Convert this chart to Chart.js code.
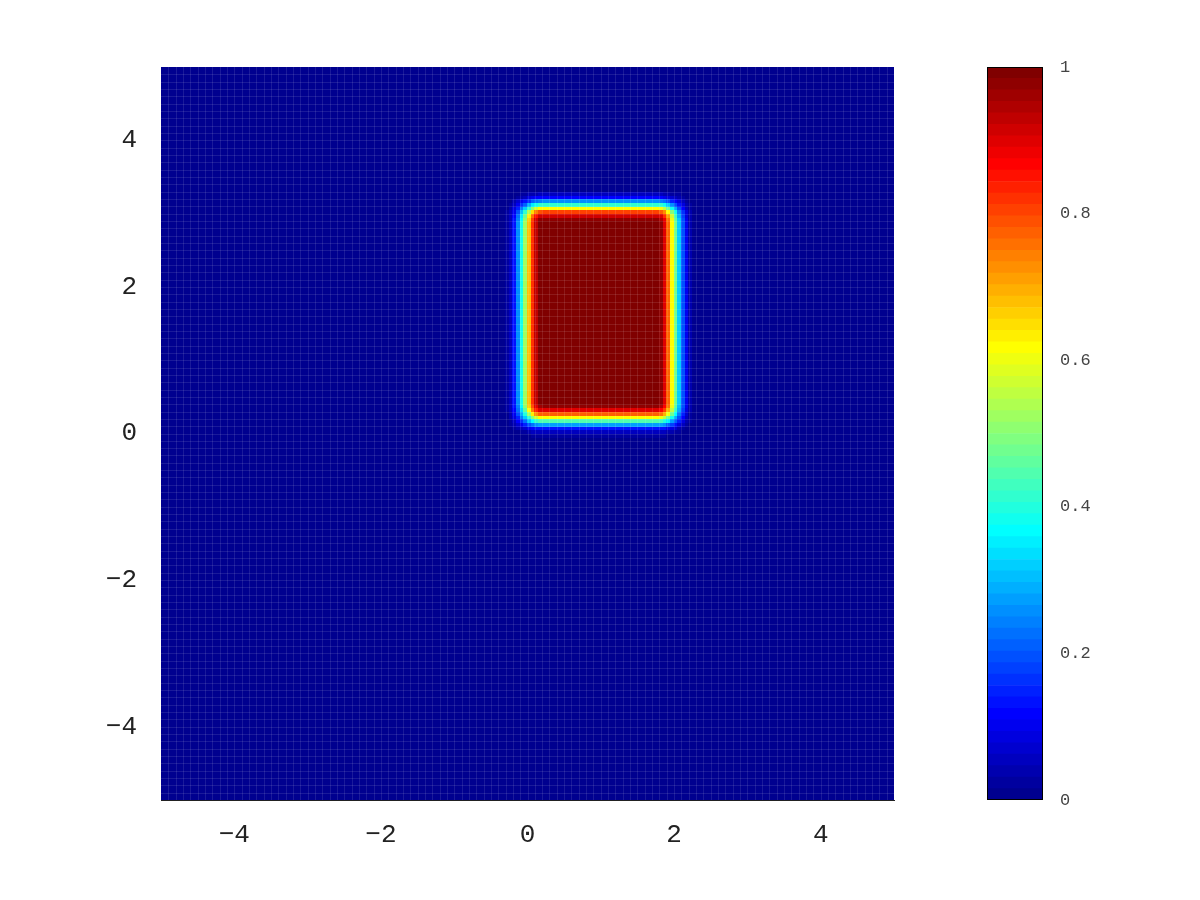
<!DOCTYPE html>
<html>
<head>
<meta charset="utf-8">
<script src="https://cdn.jsdelivr.net/npm/chart.js@4"></script>
<style>
body{margin:0;background:#fff;}
#wrap{position:relative;width:1200px;height:900px;}
#field{position:absolute;left:0;top:0;}
#bar{position:absolute;left:900px;top:0;}
</style>
</head>
<body>
<div id="wrap">
<canvas id="field" width="1200" height="900"></canvas>
<canvas id="bar" width="300" height="900"></canvas>
</div>
<script>
// axis ticks
const xTicks = [-4, -2, 0, 2, 4];
const yTicks = [-4, -2, 0, 2, 4];
const cbTicks = [0, 0.2, 0.4, 0.6, 0.8, 1];

// grid of the field
const gridMin = -5, gridMax = 5, cellSize = 0.05;

// edge profiles (cell left/bottom edge, one value per cell)
const xRiseFrom = -0.30;
const xRise = [0.02, 0.06, 0.13, 0.25, 0.38, 0.52, 0.68, 0.82, 0.93, 0.99];
const xFallFrom = 1.80;
const xFall = [0.97, 0.90, 0.78, 0.62, 0.47, 0.32, 0.20, 0.10, 0.04, 0.01];
const yRiseFrom = -0.05;
const yRise = [0.02, 0.06, 0.14, 0.28, 0.45, 0.62, 0.78, 0.90, 0.97];
const yFallFrom = 2.90;
const yFall = [0.98, 0.92, 0.80, 0.62, 0.42, 0.25, 0.12, 0.05, 0.01];

function jet(m){
	let n = Math.ceil(m/4);
	let u = [];
	for(let i=1;i<=n;i++) u.push(i/n);
	for(let i=1;i<n;i++) u.push(1);
	for(let i=n;i>=1;i--) u.push(i/n);
	let gOff = Math.ceil(n/2) - (m%4==1?1:0);
	let J = [];
	for(let i=0;i<m;i++) J.push([0,0,0]);
	u.forEach((val,k)=>{
		let g = gOff + k + 1, r = g + n, b = g - n;
		if(r>=1 && r<=m) J[r-1][0]=val;
		if(g>=1 && g<=m) J[g-1][1]=val;
		if(b>=1 && b<=m) J[b-1][2]=val;
	});
	return J.map(c=>'rgb('+Math.round(c[0]*255)+','+Math.round(c[1]*255)+','+Math.round(c[2]*255)+')');
}
const cmap = jet(64);

function profile(pos, riseFrom, rise, fallFrom, fall){
	let k = Math.round((pos-riseFrom)/cellSize);
	if(k<0) return 0;
	if(k<rise.length) return rise[k];
	let m = Math.round((pos-fallFrom)/cellSize);
	if(m<0) return 1;
	if(m<fall.length) return fall[m];
	return 0;
}
function colorOf(v){
	let idx = Math.min(63, Math.max(0, Math.floor(v*64)));
	return cmap[idx];
}
function minus(v){ return String(v).replace('-', '\u2212'); }

const nCells = Math.round((gridMax-gridMin)/cellSize);

const fieldPlugin = {
	id:'field',
	beforeDatasetsDraw(chart){
		const ctx = chart.ctx, xs = chart.scales.x, ys = chart.scales.y;
		ctx.save();
		for(let i=0;i<nCells;i++){
			let x0 = gridMin + i*cellSize;
			let px0 = Math.floor(xs.getPixelForValue(x0));
			let px1 = Math.ceil(xs.getPixelForValue(x0+cellSize));
			let fx = profile(x0, xRiseFrom, xRise, xFallFrom, xFall);
			for(let j=0;j<nCells;j++){
				let y0 = gridMin + j*cellSize;
				let py1 = Math.ceil(ys.getPixelForValue(y0));
				let py0 = Math.floor(ys.getPixelForValue(y0+cellSize));
				let fy = profile(y0, yRiseFrom, yRise, yFallFrom, yFall);
				ctx.fillStyle = colorOf(fx*fy);
				ctx.fillRect(px0, py0, px1-px0, py1-py0);
			}
		}
		// faint mesh lines
		ctx.strokeStyle = 'rgba(255,255,255,0.10)';
		ctx.lineWidth = 1;
		ctx.beginPath();
		for(let i=1;i<nCells/2;i++){
			let v = gridMin + i*cellSize*2;
			let px = Math.round(xs.getPixelForValue(v))+0.5;
			ctx.moveTo(px, ys.top); ctx.lineTo(px, ys.bottom);
			let py = Math.round(ys.getPixelForValue(v))+0.5;
			ctx.moveTo(xs.left, py); ctx.lineTo(xs.right, py);
		}
		ctx.stroke();
		ctx.restore();
	}
};

const tickFont = {family:'Liberation Mono', size:26};

new Chart(document.querySelector('#field').getContext('2d'), {
	type:'scatter',
	data:{datasets:[]},
	options:{
		responsive:false,
		animation:false,
		layout:{padding:{left:0, top:67, right:306, bottom:0}},
		plugins:{legend:{display:false}, tooltip:{enabled:false}},
		scales:{
			x:{
				type:'linear', min:gridMin, max:gridMax,
				afterBuildTicks:s=>{ s.ticks = xTicks.map(v=>({value:v})); },
				afterFit:s=>{ s.height = 100; },
				grid:{display:false},
				border:{display:true, color:'#222', width:1},
				ticks:{font:tickFont, color:'#222', padding:12, maxRotation:0, callback:v=>minus(v)}
			},
			y:{
				type:'linear', min:gridMin, max:gridMax,
				afterBuildTicks:s=>{ s.ticks = yTicks.map(v=>({value:v})); },
				afterFit:s=>{ s.width = 161; },
				grid:{display:false},
				border:{display:true, color:'#222', width:1},
				ticks:{font:tickFont, color:'#222', padding:16, callback:v=>minus(v)}
			}
		}
	},
	plugins:[fieldPlugin]
});

// colour bar: 64 stacked bands
const bandSets = cmap.map(c=>({data:[1/64], backgroundColor:c, borderWidth:0, barPercentage:1, categoryPercentage:1}));
new Chart(document.querySelector('#bar').getContext('2d'), {
	type:'bar',
	data:{labels:[''], datasets:bandSets},
	options:{
		responsive:false,
		animation:false,
		layout:{padding:{left:87, top:67, right:0, bottom:100}},
		plugins:{legend:{display:false}, tooltip:{enabled:false}},
		scales:{
			x:{stacked:true, display:false},
			y:{
				stacked:true, position:'right', min:0, max:1,
				afterBuildTicks:s=>{ s.ticks = cbTicks.map(v=>({value:v})); },
				afterFit:s=>{ s.width = 157; },
				grid:{display:false},
				border:{display:false},
				ticks:{font:{family:'Liberation Mono', size:17}, color:'#444', padding:9, callback:v=>String(v)}
			}
		}
	},
	plugins:[{
		id:'frame',
		afterDatasetsDraw(chart){
			const a = chart.chartArea, ctx = chart.ctx;
			ctx.save();
			ctx.strokeStyle = '#000';
			ctx.lineWidth = 1;
			ctx.strokeRect(Math.round(a.left)+0.5, Math.round(a.top)+0.5, Math.round(a.right-a.left)-1, Math.round(a.bottom-a.top)-1);
			ctx.restore();
		}
	}]
});
</script>
</body>
</html>
